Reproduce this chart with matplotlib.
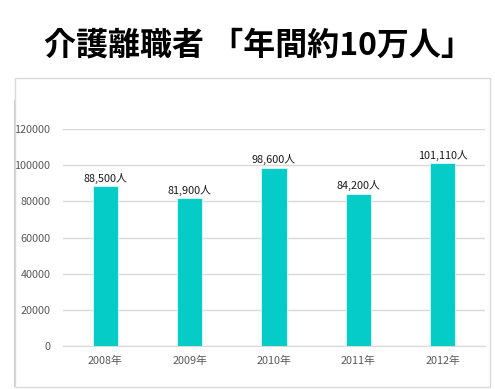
import matplotlib
matplotlib.use("Agg")
import matplotlib.pyplot as plt
from matplotlib.patches import Rectangle

plt.rcParams['font.family'] = ['Noto Sans CJK JP', 'DejaVu Sans']

years = ["2008年", "2009年", "2010年", "2011年", "2012年"]
values = [88500, 81900, 98600, 84200, 101110]
labels = ["88,500人", "81,900人", "98,600人", "84,200人", "101,110人"]
yticks = [0, 20000, 40000, 60000, 80000, 100000, 120000]

W, H = 495, 389
fig = plt.figure(figsize=(W/100, H/100), dpi=100)
fig.patch.set_facecolor('white')

# frame
fig.patches.append(Rectangle((15/W, 1 - 387/H), (490-15)/W, (387-78)/H,
                             transform=fig.transFigure, fill=False,
                             edgecolor='#d9d9d9', linewidth=1.0))
fig.patches.append(Rectangle((13.5/W, 1 - 387/H), 1.5/W, (387-100)/H,
                             transform=fig.transFigure, fill=True,
                             facecolor='#d0d0d0', edgecolor='none'))

fig.text(258/W, 1 - 45/H, "介護離職者 「年間約10万人」", ha='center', va='center',
         fontsize=23, fontweight='bold', color='black')

ax = fig.add_axes([63/W, 1 - 346/H, (485-63)/W, (346-129)/H])
x = list(range(len(years)))
ax.bar(x, values, width=0.3, color='#06CCC8', edgecolor='#e0fbfa', linewidth=0.6, zorder=3)
for xi, v, l in zip(x, values, labels):
    ax.text(xi, v + 1300, l, ha='center', va='bottom', fontsize=7.8, color='#1a1a1a')

ax.set_xlim(-0.5, 4.5)
ax.set_ylim(0, 120000)
ax.set_yticks(yticks)
ax.set_yticklabels([str(t) for t in yticks])
ax.set_xticks(x)
ax.set_xticklabels(years)
ax.grid(axis='y', color='#d9d9d9', linewidth=1.0, zorder=0)
for s in ['top', 'right', 'left']:
    ax.spines[s].set_visible(False)
ax.spines['bottom'].set_color('#d9d9d9')
ax.tick_params(axis='both', length=0, labelsize=7.8, colors='#595959')
ax.tick_params(axis='y', pad=9)
ax.tick_params(axis='x', pad=7)

fig.savefig("out.png", dpi=100, facecolor='white')
